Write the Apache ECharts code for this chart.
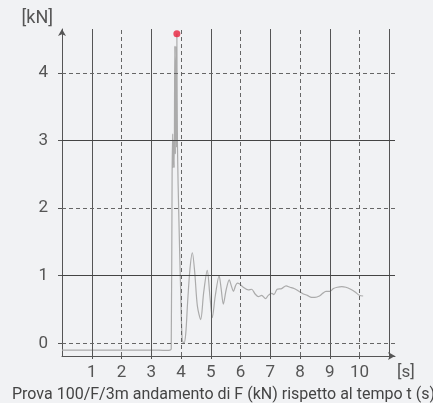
<!DOCTYPE html>
<html>
<head>
<meta charset="utf-8">
<script src="https://cdn.jsdelivr.net/npm/echarts@6/dist/echarts.min.js"></script>
<style>
html,body{margin:0;padding:0;background:#f1f2f4;}
#chart{width:433px;height:403px;}
</style>
</head>
<body>
<div id="chart"></div>
<script>
// ---- data ----
var timeS = [0, 1, 2, 3, 3.5, 3.63, 3.67, 3.7, 3.72, 3.73, 3.75, 3.77, 3.79, 3.81, 3.83, 3.85, 3.86, 3.88,
  3.93, 3.98, 4.04, 4.1, 4.16, 4.22, 4.3, 4.38, 4.46, 4.55, 4.66, 4.76, 4.88, 4.97, 5.05, 5.15, 5.28, 5.35,
  5.42, 5.52, 5.62, 5.69, 5.76, 5.83, 5.89, 5.96, 6.09, 6.26, 6.37, 6.49, 6.6, 6.71, 6.84, 6.93, 7.05, 7.12,
  7.23, 7.38, 7.53, 7.66, 7.8, 7.96, 8.11, 8.24, 8.39, 8.5, 8.65, 8.76, 8.87, 9.0, 9.12, 9.25, 9.4, 9.54,
  9.7, 9.85, 9.99, 10.12];
var forceKN = [-0.1, -0.1, -0.1, -0.1, -0.105, -0.1, -0.08, 2.5, 3.1, 2.6, 3.0, 2.6, 4.4, 2.8, 4.4, 2.9, 4.58, 2.9,
  1.8, 0.9, 0.05, 0.0, 0.15, 0.6, 1.1, 1.34, 1.05, 0.55, 0.35, 0.75, 1.08, 0.7, 0.38, 0.7, 1.0, 0.8,
  0.58, 0.8, 0.94, 0.85, 0.77, 0.85, 0.89, 0.88, 0.83, 0.79, 0.8, 0.73, 0.69, 0.71, 0.66, 0.71, 0.74, 0.72,
  0.8, 0.81, 0.85, 0.83, 0.81, 0.77, 0.73, 0.71, 0.68, 0.68, 0.7, 0.74, 0.77, 0.77, 0.81, 0.83, 0.84, 0.83,
  0.8, 0.76, 0.71, 0.7];
var peakT = [3.86];
var peakF = [4.58];
var xTicks = [1, 2, 3, 4, 5, 6, 7, 8, 9, 10, 11];
var xLabels = [1, 2, 3, 4, 5, 6, 7, 8, 9, 10];
var yTicks = [0, 1, 2, 3, 4];
var titleText = 'Prova 100/F/3m andamento di F (kN) rispetto al tempo t (s)';

// ---- build ----
var FONT = 'Roboto';
var series = timeS.map(function (t, i) { return [t, forceKN[i]]; });
var peak = peakT.map(function (t, i) { return [t, peakF[i]]; });

var gridMarks = [];
xTicks.forEach(function (v) {
  gridMarks.push({ xAxis: v, lineStyle: { type: v % 2 === 1 ? 'solid' : [4, 3], color: v % 2 === 1 ? '#555' : '#666', width: 1 } });
});
yTicks.forEach(function (v) {
  gridMarks.push({ yAxis: v, lineStyle: { type: v % 2 === 1 ? 'solid' : [4, 3], color: v % 2 === 1 ? '#444' : '#666', width: 1 } });
});

var chart = echarts.init(document.getElementById('chart'), null, { renderer: 'canvas' });
chart.setOption({
  backgroundColor: '#f1f2f4',
  animation: false,
  title: {
    text: titleText, left: 12, bottom: 0, padding: 0,
    textStyle: { fontFamily: FONT, fontSize: 16, fontWeight: 'normal', color: '#444' }
  },
  grid: { left: 62, right: 38, top: 29, bottom: 47, containLabel: false, outerBoundsMode: 'none' },
  xAxis: {
    type: 'value', min: 0, max: 11.19,
    splitLine: { show: false },
    axisLine: { show: true, onZero: false, symbol: ['none', 'arrow'], symbolSize: [6, 7], lineStyle: { color: '#555', width: 1 } },
    axisTick: { show: true, length: 3, customValues: xTicks, lineStyle: { color: '#555' } },
    axisLabel: { customValues: xLabels, margin: 8, fontFamily: FONT, fontSize: 17, color: '#555' },
    name: '[s]', nameLocation: 'end', nameGap: 2,
    nameTextStyle: { fontFamily: FONT, fontSize: 17, color: '#555', align: 'left', verticalAlign: 'top', padding: [8, 0, 0, 0] }
  },
  yAxis: {
    type: 'value', min: -0.188, max: 4.652,
    splitLine: { show: false },
    axisLine: { show: true, onZero: false, symbol: ['none', 'arrow'], symbolSize: [6, 7], lineStyle: { color: '#555', width: 1 } },
    axisTick: { show: true, length: 4, customValues: yTicks, lineStyle: { color: '#555' } },
    axisLabel: { customValues: yTicks, margin: 14, fontFamily: FONT, fontSize: 17, color: '#555' },
    name: '[kN]', nameLocation: 'end', nameGap: 2,
    nameTextStyle: { fontFamily: FONT, fontSize: 18, color: '#555', align: 'right', padding: [0, 9, 0, 0] }
  },
  series: [
    {
      type: 'line', data: [], z: 1, silent: true,
      markLine: { symbol: 'none', silent: true, label: { show: false }, animation: false, data: gridMarks }
    },
    {
      type: 'line', data: series, z: 3, showSymbol: false, smooth: 0.3,
      lineStyle: { color: '#ababab', width: 1.2 }
    },
    {
      type: 'scatter', data: peak, z: 4, symbolSize: 7,
      itemStyle: { color: '#e8203c' }
    }
  ]
});
</script>
</body>
</html>
